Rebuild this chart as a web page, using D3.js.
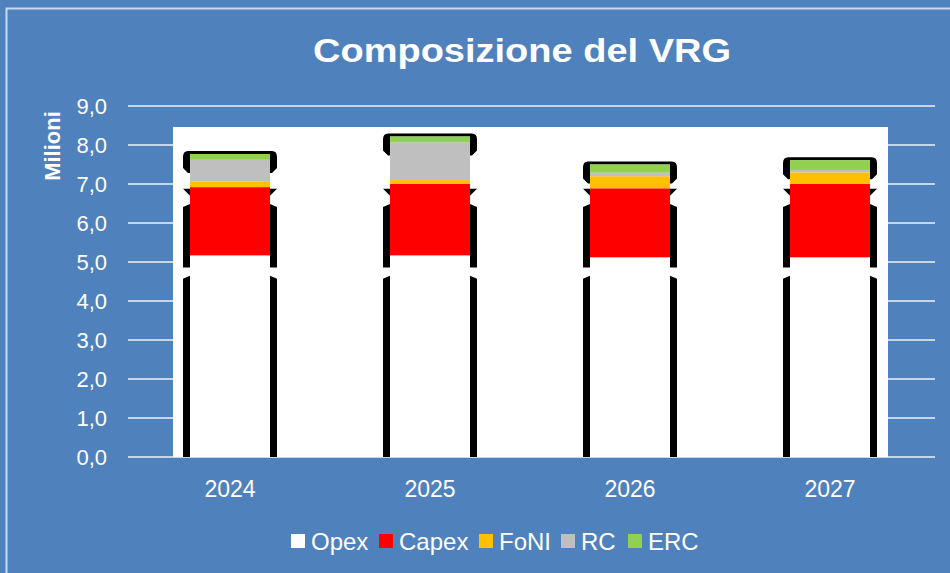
<!DOCTYPE html>
<html><head><meta charset="utf-8">
<script src="https://cdn.jsdelivr.net/npm/d3@7"></script>
<style>html,body{margin:0;padding:0;background:#4F81BD;}svg{display:block;}</style>
</head><body>
<svg id="c" width="950" height="573"></svg>
<script>
const categories = ["2024","2025","2026","2027"];
const seriesNames = ["Opex","Capex","FoNI","RC","ERC"];
const opex  = [5.17, 5.17, 5.12, 5.12];
const capex = [1.75, 1.83, 1.77, 1.88];
const foni  = [0.14, 0.10, 0.31, 0.30];
const rc    = [0.56, 0.97, 0.09, 0.06];
const erc   = [0.15, 0.15, 0.21, 0.25];
const yTicks = [0,1,2,3,4,5,6,7,8,9];
const colors = ["#FFFFFF","#FF0000","#FFC000","#BFBFBF","#92D050"];
// decorative outline segments (value ranges) seen in the reference
const outlineSegments = [[0,4.65],[4.86,6.49]];

const FONT = "Liberation Sans, Arial, sans-serif";
const svg = d3.select("#c");
svg.append("rect").attr("x",0).attr("y",0).attr("width",950).attr("height",573).attr("fill","#4F81BD");
svg.append("path").attr("d","M6.5,573 L6.5,8.5 L950,8.5").attr("fill","none").attr("stroke","#C9D9EE").attr("stroke-width",2);

const x = d3.scaleBand().domain(categories).range([130,930]).paddingInner(0.6).paddingOuter(0.3);
const y = d3.scaleLinear().domain([0,9]).range([457,106]);

// gridlines
svg.append("g").selectAll("line").data(yTicks).join("line")
  .attr("x1",128).attr("x2",935).attr("y1",d=>y(d)).attr("y2",d=>y(d))
  .attr("stroke","#C5D5EA").attr("stroke-width",2);

// white plot area
svg.append("rect").attr("x",173).attr("y",127).attr("width",715).attr("height",y(0)-127).attr("fill","#FFFFFF");

// y axis labels
const fmt = d=>d.toFixed(1).replace(".",",");
svg.append("g").selectAll("text").data(yTicks).join("text")
  .attr("x",107).attr("y",d=>y(d)).attr("dy","0.36em").attr("text-anchor","end")
  .attr("fill","#FFFFFF").attr("font-family",FONT).attr("font-size",22)
  .text(fmt);
svg.append("text").attr("transform","translate(60,146) rotate(-90)").attr("text-anchor","middle")
  .attr("fill","#FFFFFF").attr("font-family",FONT).attr("font-weight","bold").attr("font-size",22)
  .text("Milioni");

// stacked data
const table = categories.map((c,i)=>({cat:c, Opex:opex[i], Capex:capex[i], FoNI:foni[i], RC:rc[i], ERC:erc[i]}));
const stack = d3.stack().keys(seriesNames)(table);

// outlines
const gO = svg.append("g");
table.forEach((d,i)=>{
  const x0 = x(d.cat), x1 = x0 + x.bandwidth();
  const total = seriesNames.reduce((s,k)=>s+d[k],0);
  const yT = y(total);
  outlineSegments.forEach(([a,b])=>{
    const yb = y(a), yt = y(b);
    [[x0-7,x0],[x1,x1+7]].forEach(([l,r],side)=>{
      const outer = side===0 ? l : r, inner = side===0 ? r : l;
      gO.append("path").attr("fill","#000")
        .attr("d",`M${inner},${yt} L${outer},${yt+3} L${outer},${yb} L${inner},${yb} Z`);
    });
  });
  // notch triangles near capex top
  [[x0-7,x0],[x1+7,x1]].forEach(([o,inn])=>{
    gO.append("path").attr("fill","#000")
      .attr("d",`M${o},${y(6.88)} L${inn},${y(6.88)} L${inn},${y(6.70)} Z`);
  });
  // top cap
  gO.append("path").attr("fill","#000")
    .attr("d",`M${x0-2},${yT-3} L${x1+2},${yT-3} Q${x1+7},${yT-3} ${x1+7},${yT+3} L${x1+7},${yT+14} L${x1+2},${yT+19} L${x1},${yT+19} L${x1},${yT} L${x0},${yT} L${x0},${yT+19} L${x0-2},${yT+19} L${x0-7},${yT+14} L${x0-7},${yT+3} Q${x0-7},${yT-3} ${x0-2},${yT-3} Z`);
});

// bars
svg.append("g").selectAll("g").data(stack).join("g")
  .attr("fill",(d,i)=>colors[i])
  .selectAll("rect").data(d=>d).join("rect")
  .attr("x",d=>x(d.data.cat)).attr("width",x.bandwidth())
  .attr("y",d=>y(d[1])).attr("height",d=>y(d[0])-y(d[1]));

// x labels
svg.append("g").selectAll("text").data(categories).join("text")
  .attr("x",d=>x(d)+x.bandwidth()/2).attr("y",497).attr("text-anchor","middle")
  .attr("fill","#FFFFFF").attr("font-family",FONT).attr("font-size",23)
  .text(d=>d);

// title
svg.append("text").attr("x",522).attr("y",62).attr("text-anchor","middle")
  .attr("fill","#FFFFFF").attr("font-family",FONT).attr("font-weight","bold").attr("font-size",34)
  .attr("textLength",418).attr("lengthAdjust","spacingAndGlyphs")
  .text("Composizione del VRG");

// legend
const legendX = [291,379,479,561,628];
const lg = svg.append("g").selectAll("g").data(seriesNames).join("g")
  .attr("transform",(d,i)=>`translate(${legendX[i]},534)`);
lg.append("rect").attr("width",14).attr("height",14).attr("fill",(d,i)=>colors[i]);
lg.append("text").attr("x",20).attr("y",15.5)
  .attr("fill","#FFFFFF").attr("font-family",FONT).attr("font-size",24)
  .text(d=>d);
</script>
</body></html>
